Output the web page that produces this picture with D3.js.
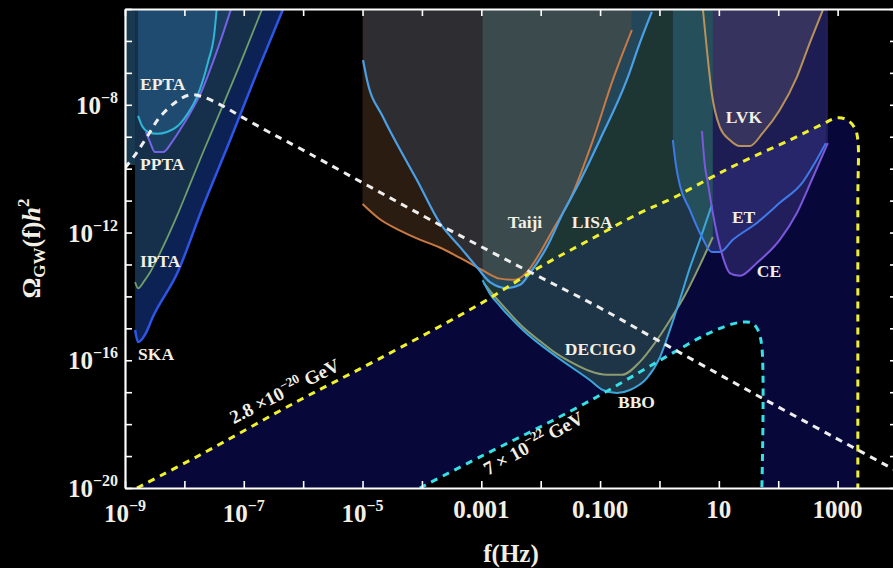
<!DOCTYPE html>
<html>
<head>
<meta charset="utf-8">
<script src="https://cdnjs.cloudflare.com/ajax/libs/d3/7.8.5/d3.min.js"></script>
<style>
  html, body { margin: 0; padding: 0; background: #000; }
  svg { display: block; }
  text { font-family: "Liberation Serif", "Times New Roman", "DejaVu Serif", serif; font-weight: bold; }
</style>
</head>
<body>
<svg id="chart" width="893" height="568"></svg>
<script>
// ---- Sensitivity curves: [frequency (Hz), Omega_GW h^2] ----
const ska = [[1.48e-9,8.9e-16],[1.66e-9,3.7e-16],[2.2e-9,6.6e-16],[2.95e-9,2.3e-15],[7.6e-9,5.4e-14],[2.04e-8,6.3e-12],[5.9e-8,7.9e-10],[1.66e-7,1e-7],[4.6e-7,1e-5]];
const ipta = [[1.48e-9,2.8e-14],[1.66e-9,1.8e-14],[2.1e-9,3.0e-14],[2.6e-9,5.4e-14],[3.9e-9,2.3e-13],[7.6e-9,3.5e-12],[1.23e-8,3.1e-11],[2.04e-8,3.1e-10],[4.0e-8,6.0e-9],[8.7e-8,1.9e-7],[2.04e-7,1e-5]];
const ppta = [[2.25e-9,1.41e-9],[2.63e-9,6.9e-10],[3.2e-9,3.3e-10],[4.4e-9,3.3e-10],[6.2e-9,6.9e-10],[8.4e-9,1.62e-9],[1.34e-8,6.9e-9],[1.83e-8,2.04e-8],[2.7e-8,1.23e-7],[4.0e-8,9.3e-7],[6.1e-8,1e-5]];
const epta = [[1.66e-9,4.5e-9],[1.93e-9,2.2e-9],[2.45e-9,1.41e-9],[3.47e-9,1.23e-9],[5.1e-9,1.41e-9],[7.8e-9,2.2e-9],[1.15e-8,5.5e-9],[1.62e-8,1.74e-8],[2.5e-8,2.2e-7],[3.2e-8,1.78e-6],[3.5e-8,1e-5]];
const ptaBand = [[1e-9,1.3e-10],[1.5e-9,1e-5]];

const taiji = [[1e-5,7.8e-12],[1.96e-5,2.6e-12],[4.3e-5,1.15e-12],[9.2e-5,6.0e-13],[2.0e-4,3.4e-13],[4.4e-4,1.6e-13],[1.06e-3,6.5e-14],[2.06e-3,3.6e-14],[3.7e-3,3.3e-14],[5.9e-3,5.8e-14],[9.7e-3,2.3e-13],[1.6e-2,1.2e-12],[3.1e-2,1.05e-11],[7.6e-2,7.9e-10],[0.164,6.0e-8],[0.242,4.2e-7],[0.343,2.2e-6]];
const lisa = [[1.02e-5,2.5e-7],[1.19e-5,6.0e-8],[2.2e-5,4.2e-9],[4.3e-5,3.9e-10],[8.2e-5,4.5e-11],[2.0e-4,2.0e-12],[4.4e-4,3.5e-13],[8.4e-4,8.3e-14],[1.4e-3,2.8e-14],[2.7e-3,1.82e-14],[4.5e-3,2.3e-14],[6.6e-3,5.4e-14],[1.27e-2,3.5e-13],[2.37e-2,4.1e-12],[4.1e-2,2.7e-11],[9.9e-2,7.9e-10],[0.282,6.0e-8],[0.468,8.7e-7],[0.745,8.1e-6]];
const decigo = [[1.1e-3,2.6e-14],[1.4e-3,1.5e-14],[2.7e-3,3.7e-15],[5.0e-3,1.1e-15],[9.7e-3,4.0e-16],[1.88e-2,1.58e-16],[3.5e-2,8.1e-17],[6.7e-2,4.6e-17],[0.13,3.5e-17],[0.233,3.5e-17],[0.468,8.9e-17],[0.84,3.5e-16],[1.5,1.8e-15],[2.7,1.1e-14],[4.8,9.5e-14],[7.9,7.2e-13]];
const bbo = [[1.05e-3,3.2e-14],[1.4e-3,1.2e-14],[2.06e-3,5.0e-15],[5.0e-3,8.9e-16],[1.88e-2,1.26e-16],[6.7e-2,2.4e-17],[0.111,1.17e-17],[0.192,9.4e-18],[0.318,1.17e-17],[0.614,2.75e-17],[1.02,1.26e-16],[1.5,8.9e-16],[2.2,7.8e-15],[3.25,7.8e-14],[4.8,5.9e-13],[7.6,7.2e-12]];

const lvk = [[5.4,9.3e-6],[6.3,5.2e-7],[7.6,2.3e-8],[10.4,2.0e-9],[15.3,7.9e-10],[22.6,5.1e-10],[33,5.1e-10],[55,1.32e-9],[106,6.9e-9],[206,7.4e-8],[340,8.7e-7],[564,9.3e-6]];
const et = [[1.68,7.9e-10],[1.89,1.32e-10],[2.2,3.1e-11],[3.25,5.1e-12],[5.2,7.2e-13],[7.6,2.45e-13],[10.4,2.45e-13],[17.2,5.9e-13],[43.6,2.0e-12],[106,8.5e-12],[259,3.8e-11],[413,1.51e-10],[632,6.3e-10]];
const ce = [[5.2,1.51e-9],[5.8,1.32e-10],[6.5,3.8e-11],[7.6,6.3e-12],[9.2,9.8e-13],[11.7,1.7e-13],[15.3,5.4e-14],[22.6,4.4e-14],[43.6,1.12e-13],[106,5.9e-13],[206,4.1e-12],[368,4.5e-11],[684,6.3e-10]];

// ---- Signal spectra ----
const spectrumHeavy = [[1.59e-9,1e-20],[1.83e-8,1.08e-19],[8.8e-7,5.7e-18],[1.75e-5,1.02e-16],[9.5e-4,5.8e-15],[9.7e-3,8.3e-14],[6.7e-2,5.9e-13],[0.468,4.1e-12],[1.68,1.2e-11],[6.3,4.5e-11],[22.6,1.51e-10],[157,7.9e-10],[564,2.5e-9],[970,3.9e-9],[1430,3.4e-9],[1950,1.86e-9],[2190,7.9e-10],[2190,1.05e-11],[2190,1e-20]];
const spectrumLight = [[9.2e-5,1e-20],[9.5e-4,9.4e-20],[9.7e-3,8.1e-19],[8.8e-2,7.1e-18],[0.468,4.3e-17],[1.68,1.7e-16],[6.3,6.6e-16],[17.2,1.38e-15],[27.4,1.58e-15],[36,1.48e-15],[45.4,8.9e-16],[53,2.6e-16],[53,1e-20]];
const spectrumWhite = [[1e-9,1.05e-10],[1.48e-9,2.7e-10],[2.34e-9,9.8e-10],[3.89e-9,4.2e-9],[7.6e-9,1.32e-8],[1.23e-8,2.04e-8],[2.04e-8,1.78e-8],[4.06e-8,1e-8],[8.6e-8,4.5e-9],[2.46e-7,1.51e-9],[7.9e-7,4.8e-10],[2.0e-4,1.74e-12],[6.6e-3,5.8e-14],[0.099,4.4e-15],[0.69,5.8e-16],[53,6.6e-18],[2190,1.55e-19],[1e4,3.4e-20]];

// ---- Axes ----
const xTicks = [1e-9,1e-8,1e-7,1e-6,1e-5,1e-4,1e-3,1e-2,1e-1,1,10,100,1000,1e4];
const yTicks = [1e-20,1e-19,1e-18,1e-17,1e-16,1e-15,1e-14,1e-13,1e-12,1e-11,1e-10,1e-9,1e-8,1e-7,1e-6,1e-5];
const xTickLabels = [[1e-9,"10","\u22129"],[1e-7,"10","\u22127"],[1e-5,"10","\u22125"],[1e-3,"0.001",""],[1e-1,"0.100",""],[10,"10",""],[1000,"1000",""]];
const yTickLabels = [[1e-20,"10","\u221220"],[1e-16,"10","\u221216"],[1e-12,"10","\u221212"],[1e-8,"10","\u22128"]];

// ---- Annotations (anchored in data coordinates) ----
const detectorLabels = [
  {text:"EPTA", f:1.79e-9, omega:2.9e-8},
  {text:"PPTA", f:1.79e-9, omega:9.1e-11},
  {text:"IPTA", f:1.79e-9, omega:8.3e-14},
  {text:"SKA", f:1.66e-9, omega:1.02e-16},
  {text:"Taiji", f:2.8e-3, omega:1.38e-12},
  {text:"LISA", f:3.35e-2, omega:1.38e-12},
  {text:"DECIGO", f:2.55e-2, omega:1.46e-16},
  {text:"BBO", f:0.2, omega:3.2e-18},
  {text:"LVK", f:13.1, omega:2.7e-9},
  {text:"ET", f:16.6, omega:2.0e-12},
  {text:"CE", f:43.6, omega:4.1e-14}
];
const spectrumLabels = [
  {pre:"2.8 \u00d710", sup:"\u221220", post:" GeV", f:6.8e-8, omega:1.0e-18, angle:-27},
  {pre:"7 \u00d7 10", sup:"\u221222", post:" GeV", f:1.29e-3, omega:2.4e-20, angle:-29}
];

// ---- Scales ----
const svg = d3.select("#chart");
const x = d3.scaleLog().domain([1e-9, 1e4]).range([125, 897]);
const y = d3.scaleLog().domain([1e-20, 1e-5]).range([488, 9]);
const [oMin, oMax] = y.domain();

// Detector curves are single-valued in f; the spectra have vertical cut-offs.
const line = d3.line().x(d => x(d[0])).y(d => y(d[1])).curve(d3.curveMonotoneX);
const spectrumLine = d3.line().x(d => x(d[0])).y(d => y(d[1])).curve(d3.curveCatmullRom.alpha(0.5));
const abovePath = c => line(c) + `L${x(c[c.length-1][0])},${y(oMax)}L${x(c[0][0])},${y(oMax)}Z`;
const belowPath = c => spectrumLine(c) + `L${x(c[c.length-1][0])},${y(oMin)}L${x(c[0][0])},${y(oMin)}Z`;
const boxPath = b => `M${x(b[0][0])},${y(b[0][1])}H${x(b[1][0])}V${y(b[1][1])}H${x(b[0][0])}Z`;

const defs = svg.append("defs");
function clip(id, paths) {
  const cp = defs.append("clipPath").attr("id", id);
  paths.forEach(d => cp.append("path").attr("d", d));
  return `url(#${id})`;
}
function region(parent, d, fill, clips = []) {
  let g = parent;
  clips.forEach(c => { g = g.append("g").attr("clip-path", c); });
  g.append("path").attr("d", d).attr("fill", fill);
}

const plotArea = `M${x.range()[0]},${y.range()[1]}H${x.range()[1]}V${y.range()[0]}H${x.range()[0]}Z`;
const plot = svg.append("g").attr("clip-path", clip("plot-area", [plotArea]));

const clipTaiji = clip("c-taiji", [abovePath(taiji)]);
const clipSpace = clip("c-decigo-bbo", [abovePath(decigo), abovePath(bbo)]);
const clipUnderHeavy = clip("c-under-heavy", [belowPath(spectrumHeavy)]);
const clipCE = clip("c-ce", [abovePath(ce)]);

// Region below the heavy-mass spectrum, minus the light-mass one
region(plot, belowPath(spectrumHeavy), "#07073a");
region(plot, belowPath(spectrumLight), "#000000");

// Pulsar timing arrays
region(plot, boxPath(ptaBand), "#183950");
region(plot, abovePath(ska), "#0d2254");
region(plot, abovePath(ipta), "#16304b");
region(plot, abovePath(ppta), "#1b3d5f");
region(plot, abovePath(epta), "#1f4b70");

// Space-based interferometers
region(plot, abovePath(taiji), "#2b1c12");
region(plot, abovePath(bbo), "#1d3533");
region(plot, abovePath(decigo), "#1d3533");
region(plot, abovePath(bbo), "#1e3447", [clipUnderHeavy]);
region(plot, abovePath(decigo), "#1e3447", [clipUnderHeavy]);
region(plot, abovePath(lisa), "#234659");
region(plot, abovePath(lisa), "#2d2d32", [clipTaiji]);
region(plot, abovePath(lisa), "#3b4a4d", [clipTaiji, clipSpace]);

// Ground-based detectors
region(plot, abovePath(ce), "#221e5c");
region(plot, abovePath(et), "#20286a");
region(plot, abovePath(et), "#1d1d54", [clipCE]);
region(plot, abovePath(et), "#28266a", [clipCE, clipUnderHeavy]);
region(plot, abovePath(lvk), "#36345e");
region(plot, abovePath(et), "#25505b", [clipSpace]);

// Curves
const curves = [
  [ska, "#2d55e8", 2.5], [ipta, "#6e9e6a", 1.8], [ppta, "#7463e6", 2], [epta, "#2fb6d6", 2],
  [taiji, "#c87a45", 2], [lisa, "#4aa0e6", 2.2], [decigo, "#8c9c70", 2], [bbo, "#3ca6dc", 2],
  [lvk, "#b8925a", 2], [et, "#3e7ae8", 2], [ce, "#7b58dc", 2]
];
curves.forEach(([c, col, w]) => {
  plot.append("path").attr("d", line(c)).attr("fill", "none")
    .attr("stroke", col).attr("stroke-width", w).attr("stroke-linejoin", "round");
});
[[spectrumHeavy, "#eef030"], [spectrumLight, "#35e0e6"], [spectrumWhite, "#eeeeee"]].forEach(([c, col]) => {
  plot.append("path").attr("d", spectrumLine(c)).attr("fill", "none")
    .attr("stroke", col).attr("stroke-width", 3).attr("stroke-dasharray", "7,6");
});

// Detector labels
plot.selectAll("text.det").data(detectorLabels).join("text").attr("class", "det")
  .attr("x", d => x(d.f)).attr("y", d => y(d.omega))
  .attr("fill", "#f3efe4").attr("font-size", 17.5).text(d => d.text);

// Spectrum labels
spectrumLabels.forEach(s => {
  const t = plot.append("text")
    .attr("transform", `translate(${x(s.f)},${y(s.omega)}) rotate(${s.angle})`)
    .attr("fill", "#f3efe4").attr("font-size", 19);
  t.append("tspan").text(s.pre);
  t.append("tspan").attr("font-size", 13).attr("dy", -8).text(s.sup);
  t.append("tspan").attr("dy", 8).text(s.post);
});

// Frame with inward ticks on all four sides
function styleAxis(g) {
  g.attr("color", "#ffffff");
  g.select(".domain").attr("stroke-width", 2.2);
  g.selectAll(".tick line").attr("stroke-width", 1.6);
}
svg.append("g").attr("transform", `translate(0,${y.range()[0]})`)
  .call(d3.axisBottom(x).tickValues(xTicks).tickSize(-7).tickSizeOuter(0).tickFormat(() => "")).call(styleAxis);
svg.append("g").attr("transform", `translate(0,${y.range()[1]})`)
  .call(d3.axisTop(x).tickValues(xTicks).tickSize(-7).tickSizeOuter(0).tickFormat(() => "")).call(styleAxis);
svg.append("g").attr("transform", `translate(${x.range()[0]},0)`)
  .call(d3.axisLeft(y).tickValues(yTicks).tickSize(-7).tickSizeOuter(0).tickFormat(() => "")).call(styleAxis);
svg.append("g").attr("transform", `translate(${x.range()[1]},0)`)
  .call(d3.axisRight(y).tickValues(yTicks).tickSize(-7).tickSizeOuter(0).tickFormat(() => "")).call(styleAxis);

// Tick labels
xTickLabels.forEach(([v, base, sup]) => {
  const t = svg.append("text").attr("x", x(v)).attr("y", sup ? 522 : 518)
    .attr("text-anchor", "middle").attr("fill", "#f3efe4").attr("font-size", 25);
  t.append("tspan").text(base);
  if (sup) t.append("tspan").attr("font-size", 16).attr("dy", -11).text(sup);
});
yTickLabels.forEach(([v, base, sup]) => {
  const t = svg.append("text").attr("x", x.range()[0] - 7).attr("y", y(v) + 9)
    .attr("text-anchor", "end").attr("fill", "#f3efe4").attr("font-size", 25);
  t.append("tspan").text(base);
  t.append("tspan").attr("font-size", 16).attr("dy", -11).text(sup);
});

// Axis titles
svg.append("text").attr("x", (x.range()[0] + x.range()[1]) / 2).attr("y", 562)
  .attr("text-anchor", "middle").attr("fill", "#f3efe4").attr("font-size", 25).text("f(Hz)");
const yt = svg.append("text").attr("transform", `translate(40,${(y.range()[0] + y.range()[1]) / 2}) rotate(-90)`)
  .attr("text-anchor", "middle").attr("fill", "#f3efe4").attr("font-size", 26);
yt.append("tspan").text("\u03a9");
yt.append("tspan").attr("font-size", 17).attr("dy", 5).text("GW");
yt.append("tspan").attr("dy", -5).text("(f)");
yt.append("tspan").attr("font-style", "italic").text("h");
yt.append("tspan").attr("font-size", 17).attr("dy", -11).text("2");
</script>
</body>
</html>
